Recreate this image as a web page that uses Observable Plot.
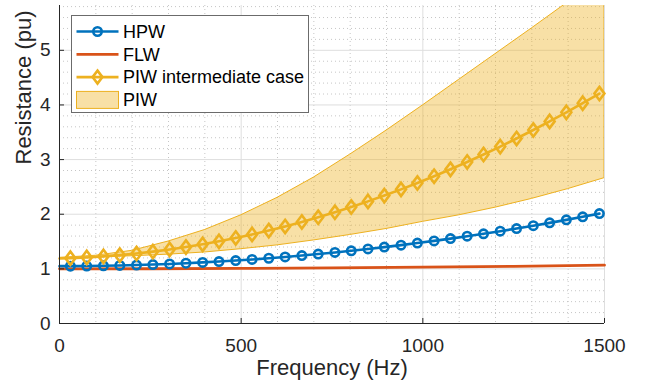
<!DOCTYPE html>
<html><head><meta charset="utf-8">
<script src="https://cdn.jsdelivr.net/npm/d3@7"></script>
<script src="https://cdn.jsdelivr.net/npm/@observablehq/plot@0.6"></script>
<style>body{margin:0;background:#fff} #chart{width:649px;height:390px}</style>
</head><body><div id="chart"></div>
<script>
// ---- data ----
const markerFreq = [30, 75, 121, 166, 212, 257, 303, 348, 394, 439, 485, 530, 576, 621, 667, 712, 758, 803, 849, 894, 940, 985, 1031, 1076, 1122, 1167, 1213, 1258, 1304, 1349, 1395, 1440, 1486];
const hpwStart = 1.05;
const hpw = [1.050, 1.052, 1.056, 1.062, 1.070, 1.079, 1.090, 1.103, 1.118, 1.134, 1.152, 1.172, 1.194, 1.218, 1.244, 1.271, 1.300, 1.331, 1.364, 1.398, 1.434, 1.472, 1.512, 1.554, 1.598, 1.642, 1.690, 1.738, 1.790, 1.842, 1.897, 1.952, 2.011];
const piwStart = 1.19;
const piwMid = [1.196, 1.209, 1.228, 1.252, 1.281, 1.315, 1.355, 1.399, 1.449, 1.504, 1.565, 1.630, 1.701, 1.776, 1.858, 1.944, 2.036, 2.132, 2.235, 2.341, 2.455, 2.571, 2.695, 2.822, 2.956, 3.093, 3.238, 3.386, 3.541, 3.699, 3.865, 4.033, 4.209];
const flwFreq = [0, 250, 500, 750, 1000, 1250, 1500];
const flw = [1.000, 1.002, 1.008, 1.017, 1.030, 1.047, 1.068];
const bandFreq = [0, 100, 200, 300, 400, 500, 600, 700, 800, 900, 1000, 1100, 1200, 1300, 1400, 1500];
const bandLow  = [1.20, 1.21, 1.23, 1.26, 1.30, 1.36, 1.43, 1.52, 1.62, 1.73, 1.86, 1.98, 2.12, 2.28, 2.46, 2.66];
const bandHigh = [1.20, 1.24, 1.33, 1.50, 1.71, 1.98, 2.30, 2.67, 3.09, 3.53, 3.99, 4.46, 4.93, 5.40, 5.88, 6.36];
const seriesNames = ["HPW", "FLW", "PIW intermediate case", "PIW"];
const seriesColors = ["#0072BD", "#D95319", "#EDB120", "#EDB120"];
const xTicks = [0, 500, 1000, 1500];
const yTicks = [0, 1, 2, 3, 4, 5];
const xMinor = [100, 200, 300, 400, 600, 700, 800, 900, 1100, 1200, 1300, 1400];
const yMinor = [0.2, 0.4, 0.6, 0.8, 1.2, 1.4, 1.6, 1.8, 2.2, 2.4, 2.6, 2.8, 3.2, 3.4, 3.6, 3.8, 4.2, 4.4, 4.6, 4.8, 5.2, 5.4, 5.6, 5.8];
const xLabel = "Frequency (Hz)";
const yLabel = "Resistance (pu)";

// ---- tables built from the arrays ----
const hpwLine = [{f: 0, v: hpwStart}, ...markerFreq.map((f, i) => ({f, v: hpw[i]}))];
const hpwPts = markerFreq.map((f, i) => ({f, v: hpw[i]}));
const piwLine = [{f: 0, v: piwStart}, ...markerFreq.map((f, i) => ({f, v: piwMid[i]}))];
const piwPts = markerFreq.map((f, i) => ({f, v: piwMid[i]}));
const flwLine = flwFreq.map((f, i) => ({f, v: flw[i]}));
const band = bandFreq.map((f, i) => ({f, lo: bandLow[i], hi: bandHigh[i]}));

const diamond = {
  draw(ctx, size) {
    const h = Math.sqrt(size / 1.5), w = h * 0.75;
    ctx.moveTo(0, -h); ctx.lineTo(w, 0); ctx.lineTo(0, h); ctx.lineTo(-w, 0); ctx.closePath();
  }
};

const axisColor = "#262626";
const font = "'Liberation Sans', Arial, Helvetica, sans-serif";
const fmt = d => String(d);
const lw = 2.6;

const svg = Plot.plot({
  width: 649, height: 390,
  marginLeft: 59, marginRight: 45, marginTop: 5, marginBottom: 67,
  style: {fontFamily: font, fontSize: "19px", color: axisColor, background: "white", overflow: "visible"},
  x: {domain: [0, 1500]},
  y: {domain: [0, 5.82]},
  marks: [
    Plot.ruleX(xMinor, {stroke: "#b8b8b8", strokeWidth: 0.8, strokeDasharray: "1,3"}),
    Plot.ruleY(yMinor, {stroke: "#b8b8b8", strokeWidth: 0.8, strokeDasharray: "1,3"}),
    Plot.ruleX(xTicks, {stroke: "#dedede", strokeWidth: 1}),
    Plot.ruleY(yTicks, {stroke: "#dedede", strokeWidth: 1}),
    Plot.areaY(band, {x: "f", y1: "lo", y2: "hi", fill: seriesColors[3], fillOpacity: 0.4, stroke: seriesColors[3], strokeWidth: 1, clip: true}),
    Plot.lineY(flwLine, {x: "f", y: "v", stroke: seriesColors[1], strokeWidth: 2.8}),
    Plot.lineY(hpwLine, {x: "f", y: "v", stroke: seriesColors[0], strokeWidth: lw}),
    Plot.dot(hpwPts, {x: "f", y: "v", r: 4.2, stroke: seriesColors[0], strokeWidth: lw, fill: "none"}),
    Plot.lineY(piwLine, {x: "f", y: "v", stroke: seriesColors[2], strokeWidth: lw}),
    Plot.dot(piwPts, {x: "f", y: "v", r: 4.6, symbol: diamond, stroke: seriesColors[2], strokeWidth: lw, fill: "none"}),
    Plot.ruleX([0], {stroke: axisColor, strokeWidth: 1}),
    Plot.ruleY([0], {stroke: axisColor, strokeWidth: 1}),
    Plot.axisX(xTicks, {anchor: "bottom", tickSize: -5, tickPadding: 20, fontSize: 19, label: null, stroke: axisColor, tickFormat: fmt}),
    Plot.axisY(yTicks, {anchor: "left", tickSize: -5, tickPadding: 14, fontSize: 19, label: null, stroke: axisColor, tickFormat: fmt}),
    Plot.text([xLabel], {frameAnchor: "bottom", dy: 51, fontSize: 22, fill: axisColor}),
    Plot.text([yLabel], {frameAnchor: "left", dx: -36, rotate: -90, fontSize: 22, fill: axisColor})
  ]
});

// ---- legend inside the axes ----
const s = d3.select(svg);
const lg = s.append("g").attr("font-family", font).attr("font-size", 18).attr("text-anchor", "start");
lg.append("rect").attr("x", 71.5).attr("y", 15.5).attr("width", 237).attr("height", 97)
  .attr("fill", "white").attr("stroke", "#6b6b6b").attr("stroke-width", 1);
seriesNames.forEach((name, i) => {
  const cy = 31.5 + 22.8 * i;
  const c = seriesColors[i];
  if (i < 3) {
    lg.append("line").attr("x1", 76.5).attr("x2", 118.5).attr("y1", cy).attr("y2", cy)
      .attr("stroke", c).attr("stroke-width", i === 1 ? 2.8 : lw);
    if (i === 0) lg.append("circle").attr("cx", 97.5).attr("cy", cy).attr("r", 4.2)
      .attr("fill", "none").attr("stroke", c).attr("stroke-width", lw);
    if (i === 2) lg.append("path").attr("d", `M97.5,${cy-6.5}L102.4,${cy}L97.5,${cy+6.5}L92.6,${cy}Z`)
      .attr("fill", "none").attr("stroke", c).attr("stroke-width", lw);
  } else {
    lg.append("rect").attr("x", 76.5).attr("y", cy - 8.5).attr("width", 42).attr("height", 17)
      .attr("fill", c).attr("fill-opacity", 0.4).attr("stroke", c).attr("stroke-width", 1);
  }
  lg.append("text").attr("x", 123).attr("y", cy).attr("dy", "0.35em").attr("fill", "#000")
    .attr("text-anchor", "start").text(name);
});

document.getElementById("chart").appendChild(svg);
</script>
</body></html>
